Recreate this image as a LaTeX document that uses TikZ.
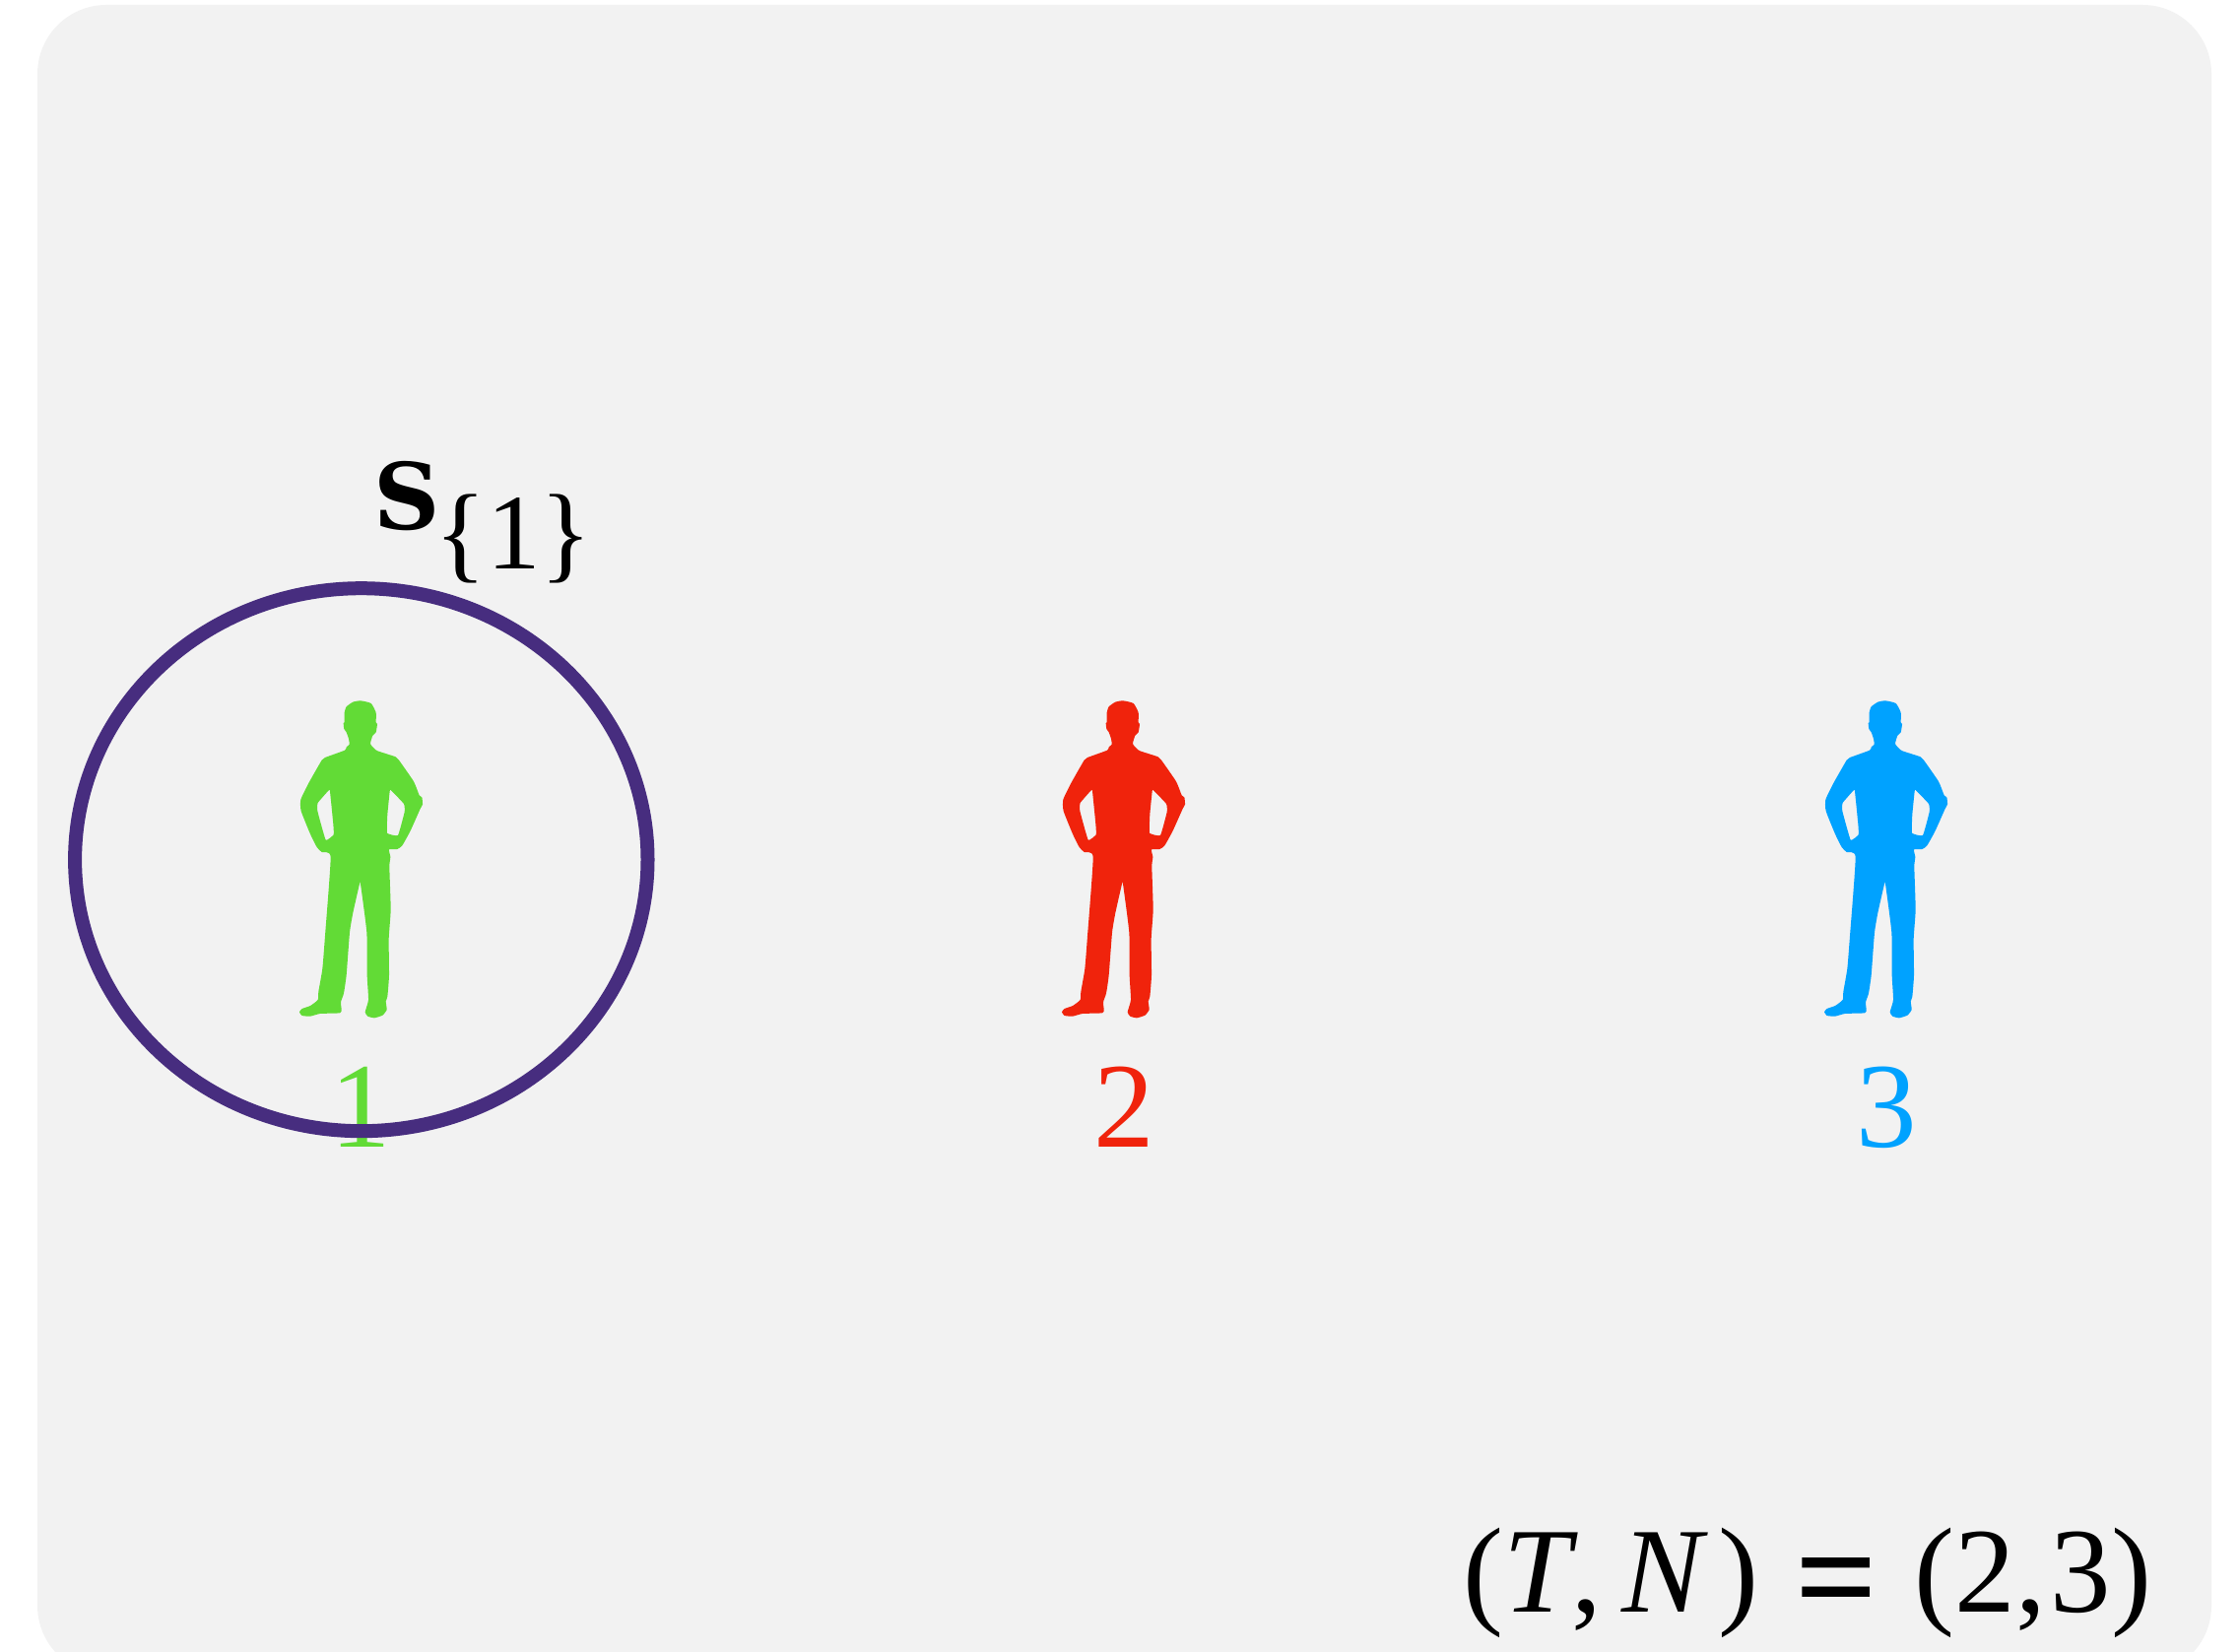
\documentclass[tikz,border=0pt]{standalone}
\usepackage{fontspec}
\setmainfont{Liberation Serif}
\newfontfamily\heavyserif{DejaVu Serif}
\usepackage{xcolor}
\definecolor{panelgray}{HTML}{F2F2F2}
\definecolor{ringpurple}{HTML}{472D7F}
\definecolor{persongreen}{HTML}{62DB36}
\definecolor{personred}{HTML}{F0230C}
\definecolor{personblue}{HTML}{00A2FF}
\tikzset{
  biglabel/.style={font=\fontsize{35}{35}\selectfont,inner sep=0pt,anchor=base},
  setlabel/.style={font=\fontsize{31}{31}\selectfont,inner sep=0pt,anchor=base west},
  person/.pic={
    \fill[pic actions,even odd rule,scale=1/3]
      plot[smooth cycle,tension=0.3] coordinates {(258,64) (290,72) (305,100) (305,130) (309,135) (305,160) (295,170) (288,195) (300,210) (310,217) (365,235) (375,245) (420,310) (437,352) (445,358) (447,380) (440,393) (410,460) (385,505) (370,516) (345,517) (349,540) (346,570) (350,700) (344,790) (345,900) (340,965) (335,980) (338,1005) (325,1022) (300,1030) (280,1025) (272,1012) (282,975) (278,900) (277,770) (258,622) (255,622) (235,710) (225,770) (215,900) (207,955) (198,982) (200,1005) (195,1015) (135,1017) (105,1025) (80,1023) (72,1012) (80,1002) (105,993) (128,975) (130,950) (142,880) (150,780) (167,540) (140,525) (125,510) (105,470) (77,400) (76,365) (100,315) (140,245) (150,237) (210,215) (215,205) (224,197) (222,180) (215,160) (208,150) (206,132) (209,130) (209,100) (215,82) (235,68)}
      plot[smooth cycle,tension=0.2] coordinates {(162,336) (128,375) (127,400) (152,488) (176,472) (175,440) (165,340)}
      plot[smooth cycle,tension=0.2] coordinates {(350,336) (390,378) (392,403) (372,474) (339,467) (340,410) (347,340)};
  }
}

\begin{document}
\begin{tikzpicture}[x=0.01cm,y=-0.01cm]
\clip (0,0) rectangle (2273,1677);
\fill[panelgray,rounded corners=0.7cm] (38,5) rectangle (2245,1700);
\pic[persongreen] at (280,690) {person};
\pic[personred] at (1054,690) {person};
\pic[personblue] at (1828,690) {person};
\node[biglabel,text=persongreen] (one) at (366,1164) {1};
\node[biglabel,text=personred] (two) at (1141,1164) {2};
\node[biglabel,text=personblue] (three) at (1915,1164) {3};
% ring round the first person
\draw[ringpurple,line width=14*0.01cm] (366.8,872.7) ellipse (290.7 and 275.5);
\node[setlabel] (setname) at (379,538) {\fontsize{26.5}{26.5}\selectfont\heavyserif\bfseries S};
\node[setlabel] (setindex) at (441,578) {\{1\}};
\node[biglabel,anchor=base west] (pair) at (1485,1636) {(\textit{T},\hspace{0.17em}\textit{N}\hspace{0.08em})\hspace{0.3em}\raisebox{-0.12em}{\fontsize{42}{42}\selectfont\textbf{=}}\hspace{0.3em}(2,\hspace{0.04em}3)};
\end{tikzpicture}
\end{document}
